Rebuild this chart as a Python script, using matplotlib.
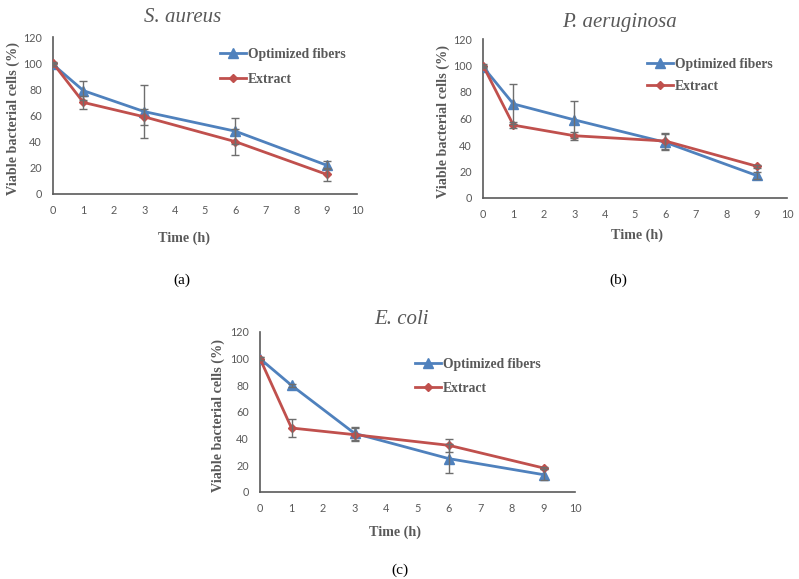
import matplotlib
matplotlib.use("Agg")
import matplotlib.pyplot as plt

time_h = [0, 1, 3, 6, 9]

sa_fib = [99, 79, 63, 48, 22]
sa_fib_err = [1, 7, 20, 10, 3]
sa_ext = [100, 70, 59, 40, 15]
sa_ext_err = [1, 5, 6, 10, 5]

pa_fib = [99, 71, 59, 42, 17]
pa_fib_err = [1, 15, 14, 6, 3]
pa_ext = [100, 55, 47, 43, 24]
pa_ext_err = [1, 2, 3, 6, 1]

ec_fib = [100, 80, 44, 25, 13]
ec_fib_err = [1, 1, 5, 11, 4]
ec_ext = [100, 48, 43, 35, 18]
ec_ext_err = [1, 7, 5, 5, 1]

titles = ["S. aureus", "P. aeruginosa", "E. coli"]
panel_tags = ["(a)", "(b)", "(c)"]
series_names = ["Optimized fibers", "Extract"]
x_ticks = list(range(0, 11))
y_ticks = [0, 20, 40, 60, 80, 100, 120]

BLUE = "#4F81BD"
RED = "#C0504D"
GRAY = "#595959"
W, H = 799, 579

fig = plt.figure(figsize=(W / 100, H / 100), dpi=100)


def fx(px):
    return px / W


def fy(py):
    return 1 - py / H


# axes boxes in pixel coords: left, right, top(y=120), bottom(y=0)
boxes = [(53, 357, 37, 194), (483, 787, 39, 198), (260, 575, 332, 492)]
data = [
    (sa_fib, sa_fib_err, sa_ext, sa_ext_err),
    (pa_fib, pa_fib_err, pa_ext, pa_ext_err),
    (ec_fib, ec_fib_err, ec_ext, ec_ext_err),
]
title_pos = [(183, 18), (619, 23), (402, 320)]
ylab_x = [13, 443, 218]
xlab_pos = [(184, 238), (637, 235), (395, 532)]
tag_pos = [(182, 280), (618, 280), (400, 570)]
leg_pos = [(220, 48, 0.88), (647, 58, 0.67), (415, 358, 0.82)]

serif = "Liberation Serif"

for i, (l, r, t, b) in enumerate(boxes):
    ax = fig.add_axes([fx(l), fy(b), fx(r) - fx(l), (b - t) / H])
    fib, fib_err, ext, ext_err = data[i]
    ax.plot(time_h, fib, color=BLUE, lw=2, marker="^", ms=6.5,
            label=series_names[0], zorder=3)
    ax.plot(time_h, ext, color=RED, lw=2, marker="D", ms=4.5,
            label=series_names[1], zorder=3)
    ax.errorbar(time_h, fib, yerr=fib_err, fmt="none", ecolor="#6E6E6E",
                elinewidth=1, capsize=3, capthick=1, zorder=4)
    ax.errorbar(time_h, ext, yerr=ext_err, fmt="none", ecolor="#6E6E6E",
                elinewidth=1, capsize=3, capthick=1, zorder=4)
    ax.set_xlim(0, 10)
    ax.set_ylim(0, 120)
    ax.set_xticks(x_ticks)
    ax.set_yticks(y_ticks)
    ax.tick_params(length=0, labelsize=7.8, colors=GRAY)
    ax.tick_params(axis="x", pad=8)
    ax.tick_params(axis="y", pad=8)
    for lab in ax.get_xticklabels() + ax.get_yticklabels():
        lab.set_fontfamily("Lato")
    for s in ["top", "right"]:
        ax.spines[s].set_visible(False)
    for s in ["left", "bottom"]:
        ax.spines[s].set_color("#5A5A5A")
        ax.spines[s].set_linewidth(1.2)
    ax.patch.set_alpha(0)

    fig.text(fx(title_pos[i][0]), fy(title_pos[i][1]), titles[i],
             family=serif, style="italic", fontsize=15, color=GRAY,
             ha="center", va="center")
    fig.text(fx(ylab_x[i]), fy((t + b) / 2 + 3), "Viable bacterial cells (%)",
             family=serif, weight="bold", fontsize=10.2, color=GRAY,
             rotation=90, ha="center", va="center")
    fig.text(fx(xlab_pos[i][0]), fy(xlab_pos[i][1]), "Time (h)",
             family=serif, weight="bold", fontsize=10.2, color=GRAY,
             ha="center", va="center")
    fig.text(fx(tag_pos[i][0]), fy(tag_pos[i][1]), panel_tags[i],
             family=serif, fontsize=11, color="black",
             ha="center", va="center")

    lx, ly, lsp = leg_pos[i]
    leg = ax.legend(loc="upper left", bbox_to_anchor=(fx(lx), fy(ly)),
                    bbox_transform=fig.transFigure, frameon=False,
                    borderpad=0, borderaxespad=0, handlelength=1.9,
                    handletextpad=0.15, labelspacing=lsp,
                    prop={"family": serif, "weight": "bold", "size": 9.8})
    for txt in leg.get_texts():
        txt.set_color(GRAY)

fig.savefig("out.png", dpi=100)
